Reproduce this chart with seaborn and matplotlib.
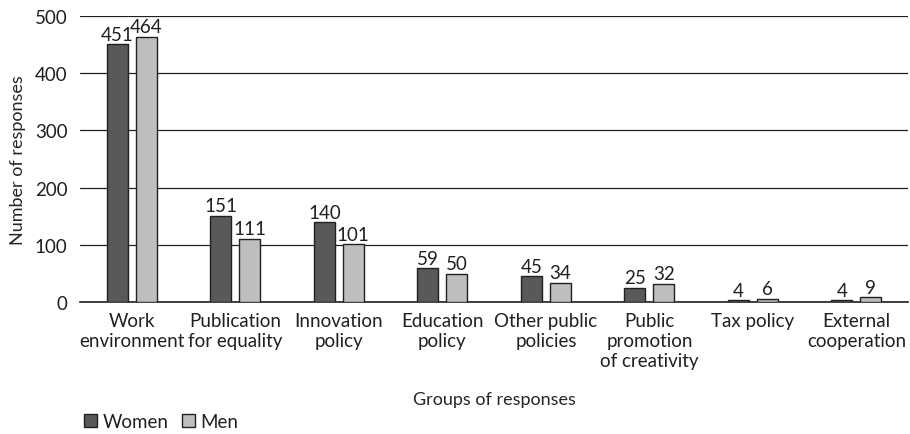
import matplotlib
matplotlib.use("Agg")
import matplotlib.pyplot as plt
import seaborn as sns
import pandas as pd

# --- DATA ---
CATEGORIES = ["Work\nenvironment", "Publication\nfor equality", "Innovation\npolicy",
              "Education\npolicy", "Other public\npolicies", "Public\npromotion\nof creativity",
              "Tax policy", "External\ncooperation"]
WOMEN = [451, 151, 140, 59, 45, 25, 4, 4]
MEN = [464, 111, 101, 50, 34, 32, 6, 9]
SERIES = ["Women", "Men"]
COLORS = ["#58595b", "#bcbec0"]

sns.set_theme(style="white")
plt.rcParams['font.family'] = ['Lato', 'DejaVu Sans']
plt.rcParams['text.color'] = '#231f20'

df = pd.DataFrame({
    "group": CATEGORIES * 2,
    "value": WOMEN + MEN,
    "sex": [SERIES[0]] * len(CATEGORIES) + [SERIES[1]] * len(CATEGORIES),
})

FS = 13.5

fig = plt.figure(figsize=(9.1, 4.35), dpi=100)
ax = fig.add_axes([0.088, 0.303, 0.91, 0.658])

sns.barplot(data=df, x="group", y="value", hue="sex", palette=COLORS,
            width=0.56, gap=0.28, edgecolor="#231f20", linewidth=1.0,
            saturation=1, ax=ax, legend=True, zorder=3)

for cont in ax.containers:
    ax.bar_label(cont, fmt="%d", padding=1, fontsize=FS, color="#231f20")

ax.set_ylim(0, 500)
ax.set_yticks([0, 100, 200, 300, 400, 500])
ax.set_xlim(-0.5, len(CATEGORIES) - 0.5)
ax.yaxis.grid(True, color="#231f20", linewidth=0.9)
ax.set_axisbelow(True)
for s in ["top", "right", "left"]:
    ax.spines[s].set_visible(False)
ax.spines["bottom"].set_color("#231f20")
ax.spines["bottom"].set_linewidth(1.2)
ax.tick_params(axis="both", length=0, labelsize=FS, colors="#231f20")
ax.tick_params(axis="x", pad=7)
ax.tick_params(axis="y", pad=9)
ax.set_ylabel("Number of responses", fontsize=13, labelpad=6)
ax.set_xlabel("Groups of responses", fontsize=13)
ax.xaxis.set_label_coords(0.5, -0.31)

leg = ax.legend(loc="center left", bbox_to_anchor=(0.092, 0.028), bbox_transform=fig.transFigure,
                ncol=2, frameon=False, fontsize=FS, handlelength=0.7, handleheight=0.7,
                handletextpad=0.3, columnspacing=0.7, borderaxespad=0, borderpad=0)

plt.savefig("out.png", dpi=100)
